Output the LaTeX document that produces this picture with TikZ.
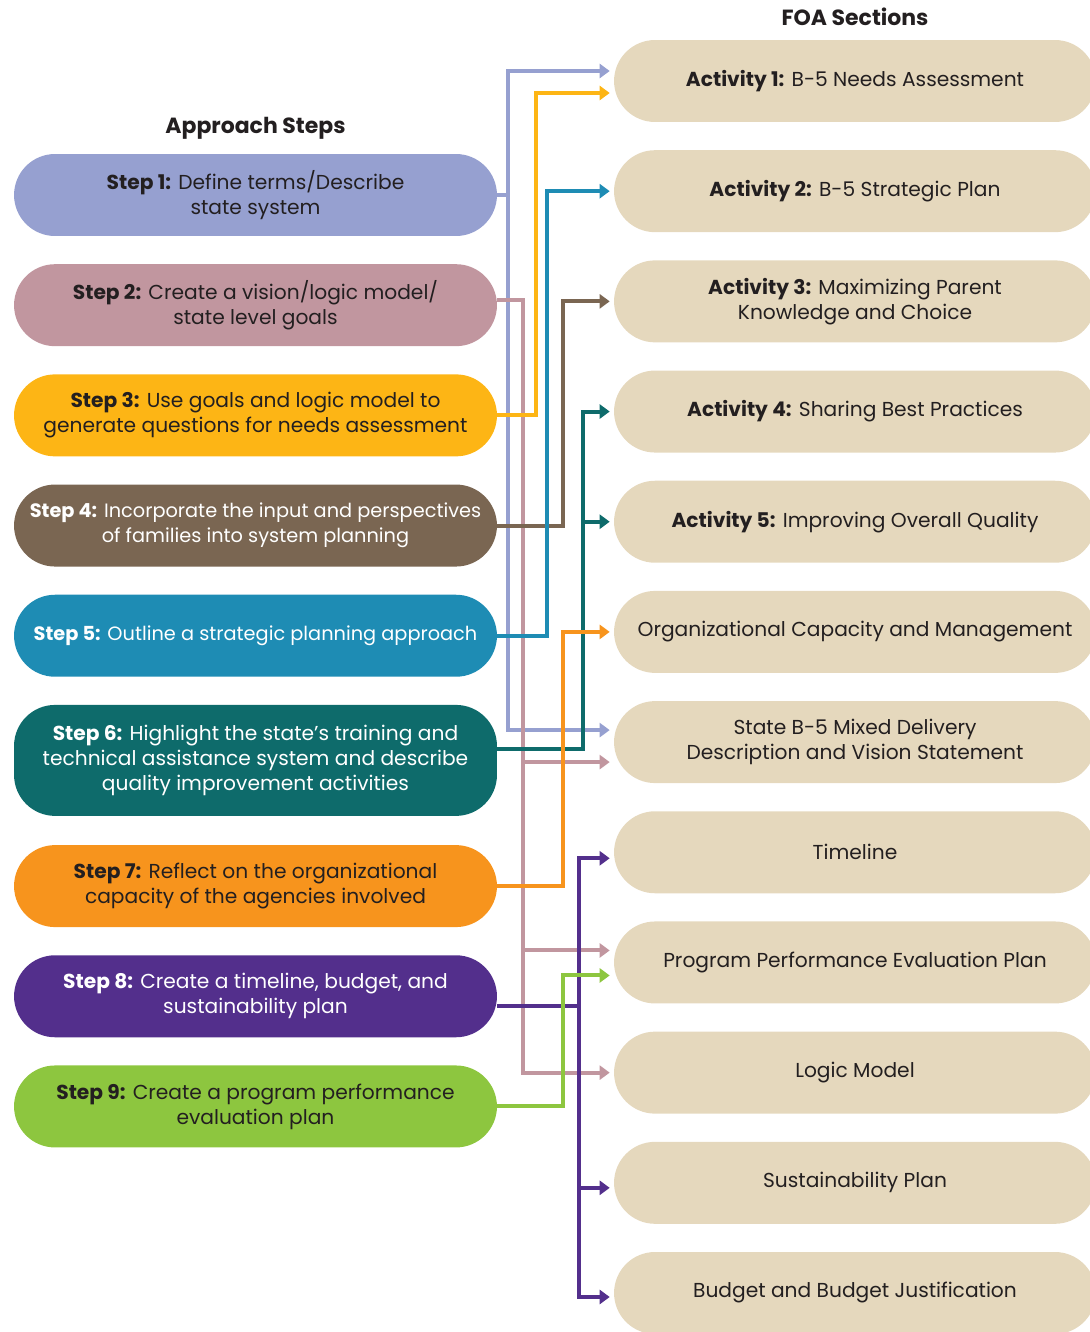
\documentclass[tikz,border=0pt]{standalone}
\usepackage{fontspec}
\setmainfont{Poppins}
\usetikzlibrary{positioning, arrows.meta}
\definecolor{textgray}{HTML}{231F20}
\definecolor{steplav}{HTML}{96A0D0}
\definecolor{stepmauve}{HTML}{C1969F}
\definecolor{stepyellow}{HTML}{FDB515}
\definecolor{stepbrown}{HTML}{7A6652}
\definecolor{stepblue}{HTML}{1E8CB4}
\definecolor{stepteal}{HTML}{0E6B6B}
\definecolor{steporange}{HTML}{F7941D}
\definecolor{steppurple}{HTML}{532F8C}
\definecolor{stepgreen}{HTML}{8DC63F}
\definecolor{foabeige}{HTML}{E5D8BD}

\begin{document}
\begin{tikzpicture}[
    x=0.02cm, y=-0.02cm,
    stepbox/.style={rectangle, rounded corners=0.82cm, minimum width=9.66cm, minimum height=1.64cm,
                    align=center, text=textgray, font=\fontsize{11.5}{14.2}\selectfont},
    foabox/.style={rectangle, rounded corners=0.82cm, fill=foabeige, minimum width=9.64cm,
                   minimum height=1.64cm, align=center, text=textgray, font=\fontsize{11.5}{14.2}\selectfont},
    head/.style={text=textgray, font=\bfseries\fontsize{12.5}{15}\selectfont},
    link/.style={line width=0.08cm, -{Triangle[length=0.2cm, width=0.28cm]}, shorten >=0.08cm},
  ]
    \useasboundingbox (0,0) rectangle (1089,1332);

    % approach steps
    \node[stepbox, fill=steplav] (s1) at (255.5,195) {\textbf{Step 1:} Define terms/Describe\\state system};
    \node[stepbox, fill=stepmauve, below=0.55cm of s1] (s2) {\textbf{Step 2:} Create a vision/logic model/\\state level goals};
    \node[stepbox, fill=stepyellow, below=0.55cm of s2] (s3) {\textbf{Step 3:} Use goals and logic model to\\generate questions for needs assessment};
    \node[stepbox, fill=stepbrown, text=white, font=\fontsize{11}{14.2}\selectfont, below=0.55cm of s3] (s4) {\textbf{Step 4:} Incorporate the input and perspectives\\of families into system planning};
    \node[stepbox, fill=stepblue, text=white, font=\fontsize{11}{14.2}\selectfont, below=0.55cm of s4] (s5) {\textbf{Step 5:} Outline a strategic planning approach};
    \node[stepbox, fill=stepteal, text=white, minimum height=2.22cm, below=0.55cm of s5] (s6) {\textbf{Step 6:} Highlight the state’s training and\\technical assistance system and describe\\quality improvement activities};
    \node[stepbox, fill=steporange, below=0.57cm of s6] (s7) {\textbf{Step 7:} Reflect on the organizational\\capacity of the agencies involved};
    \node[stepbox, fill=steppurple, text=white, below=0.55cm of s7] (s8) {\textbf{Step 8:} Create a timeline, budget, and\\sustainability plan};
    \node[stepbox, fill=stepgreen, below=0.55cm of s8] (s9) {\textbf{Step 9:} Create a program performance\\evaluation plan};
    \node[head, above=0.16cm of s1] (steps) {Approach Steps};

    % FOA sections
    \node[foabox] (a1) at (855,81) {\textbf{Activity 1:} B-5 Needs Assessment};
    \node[foabox, below=0.55cm of a1] (a2) {\textbf{Activity 2:} B-5 Strategic Plan};
    \node[foabox, below=0.55cm of a2] (a3) {\textbf{Activity 3:} Maximizing Parent\\Knowledge and Choice};
    \node[foabox, below=0.55cm of a3] (a4) {\textbf{Activity 4:} Sharing Best Practices};
    \node[foabox, below=0.55cm of a4] (a5) {\textbf{Activity 5:} Improving Overall Quality};
    \node[foabox, below=0.55cm of a5] (org) {Organizational Capacity and Management};
    \node[foabox, below=0.55cm of org] (vision) {State B-5 Mixed Delivery\\Description and Vision Statement};
    \node[foabox, below=0.55cm of vision] (timeline) {Timeline};
    \node[foabox, below=0.55cm of timeline] (eval) {Program Performance Evaluation Plan};
    \node[foabox, below=0.55cm of eval] (logic) {Logic Model};
    \node[foabox, below=0.55cm of logic] (sustain) {Sustainability Plan};
    \node[foabox, below=0.55cm of sustain] (budget) {Budget and Budget Justification};
    \node[head, above=0.16cm of a1] (foa) {FOA Sections};

    % connectors, step by step
    \draw[link, steplav] (s1.east) -- ++(11,0) |- ([yshift=0.2cm]a1.west);
    \draw[link, steplav] (s1.east) -- ++(11,0) |- ([yshift=0.24cm]vision.west);
    \draw[link, stepmauve] ([yshift=0.1cm]s2.east) -- ++(26,0) |- ([yshift=-0.4cm]vision.west);
    \draw[link, stepmauve] ([yshift=0.1cm]s2.east) -- ++(26,0) |- ([yshift=0.24cm]eval.west);
    \draw[link, stepmauve] ([yshift=0.1cm]s2.east) -- ++(26,0) |- (logic.west);
    \draw[link, stepyellow] (s3.east) -- ++(39,0) |- ([yshift=-0.24cm]a1.west);
    \draw[link, stepbrown] (s4.east) -- ++(66,0) |- (a3.west);
    \draw[link, stepblue] (s5.east) -- ++(50,0) |- (a2.west);
    \draw[link, stepteal] ([yshift=0.22cm]s6.east) -- ++(86,0) |- (a4.west);
    \draw[link, stepteal] ([yshift=0.22cm]s6.east) -- ++(86,0) |- (a5.west);
    \draw[link, steporange] (s7.east) -- ++(66,0) |- (org.west);
    \draw[link, -, steppurple] ([yshift=-0.2cm]s8.east) -- ++(86,0);
    \draw[link, steppurple] ([yshift=-0.2cm]s8.east) -- ++(82,0) |- ([yshift=-0.12cm]timeline.west);
    \draw[link, steppurple] ([yshift=-0.2cm]s8.east) -- ++(82,0) |- ([yshift=-0.1cm]sustain.west);
    \draw[link, steppurple] ([yshift=-0.2cm]s8.east) -- ++(82,0) |- ([yshift=-0.08cm]budget.west);
    \draw[link, stepgreen] (s9.east) -- ++(66,0) |- ([yshift=-0.26cm]eval.west);
  \end{tikzpicture}
\end{document}
